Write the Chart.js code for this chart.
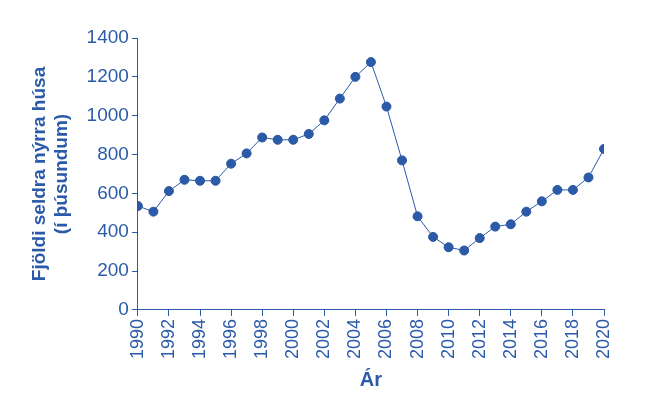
<!DOCTYPE html>
<html><head><meta charset="utf-8">
<script src="https://cdn.jsdelivr.net/npm/chart.js@4"></script>
<style>html,body{margin:0;background:#fff}#w{width:650px;height:408px}</style>
</head><body><div id="w"><canvas id="c"></canvas></div>
<script>
const years=[1990,1991,1992,1993,1994,1995,1996,1997,1998,1999,2000,2001,2002,2003,2004,2005,2006,2007,2008,2009,2010,2011,2012,2013,2014,2015,2016,2017,2018,2019,2020];
const sales=[535,506,612,670,665,665,753,806,888,876,876,906,976,1088,1200,1276,1047,770,482,376,323,306,370,429,441,506,559,618,618,682,829];
const yTitle=["Fjöldi seldra nýrra húsa","(í þúsundum)"];
const xTitle="Ár";
const C="#2b5ba8";
new Chart(document.getElementById('c'),{type:'line',
data:{datasets:[{data:years.map((y,i)=>({x:y,y:sales[i]})),borderColor:C,borderWidth:1,backgroundColor:C,pointRadius:4.5,pointBorderColor:'#2a56a0',tension:0}]},
options:{responsive:true,maintainAspectRatio:false,animation:false,
layout:{padding:{left:24,right:46,top:38,bottom:12}},
plugins:{legend:{display:false},tooltip:{enabled:false}},
scales:{
x:{type:'linear',min:1990,max:2020,
 ticks:{stepSize:2,color:C,font:{family:'Liberation Sans, Arial',size:18},maxRotation:90,minRotation:90,callback:v=>String(v)},
 grid:{drawOnChartArea:false,color:C,tickLength:6},border:{color:C},
 title:{display:true,text:xTitle,color:C,font:{family:'Liberation Sans, Arial',size:20,weight:'bold'},padding:{top:6}}},
y:{min:0,max:1400,
 ticks:{stepSize:200,color:C,font:{family:'Liberation Sans, Arial',size:19},callback:v=>String(v)},
 grid:{drawOnChartArea:false,color:C,tickLength:6},border:{color:C},
 title:{display:true,text:yTitle,color:C,font:{family:'Liberation Sans, Arial',size:19,weight:'bold'},padding:{bottom:10}}}
}}});
</script></body></html>
